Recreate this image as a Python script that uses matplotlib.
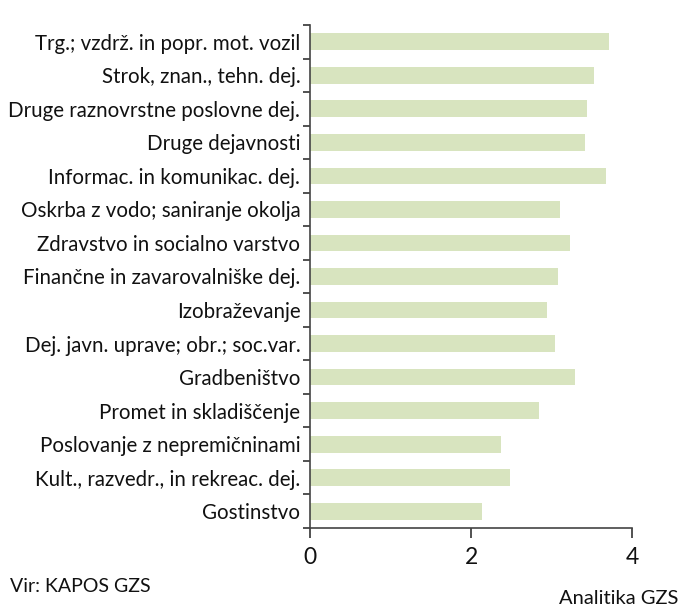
import matplotlib
matplotlib.use("Agg")
import matplotlib.pyplot as plt
import numpy as np

categories = [
    "Trg.; vzdrž. in popr. mot. vozil",
    "Strok, znan., tehn. dej.",
    "Druge raznovrstne poslovne dej.",
    "Druge dejavnosti",
    "Informac. in komunikac. dej.",
    "Oskrba z vodo; saniranje okolja",
    "Zdravstvo in socialno varstvo",
    "Finančne in zavarovalniške dej.",
    "Izobraževanje",
    "Dej. javn. uprave; obr.; soc.var.",
    "Gradbeništvo",
    "Promet in skladiščenje",
    "Poslovanje z nepremičninami",
    "Kult., razvedr., in rekreac. dej.",
    "Gostinstvo",
]
values = [3.72, 3.53, 3.44, 3.42, 3.68, 3.10, 3.23, 3.08, 2.95, 3.04, 3.29, 2.85, 2.37, 2.49, 2.14]
xticks = [0, 2, 4]

FONT = ["Lato", "DejaVu Sans"]
plt.rcParams['font.family'] = FONT

fig = plt.figure(figsize=(6.79, 6.05), dpi=100)
ax = fig.add_axes([310/679, 1-528/605, (632-310)/679, (528-25)/605])

n = len(categories)
y = np.arange(n)
ax.barh(y, values, height=0.5, color="#D8E4BF", edgecolor="none")
ax.set_ylim(n - 0.5, -0.5)
ax.set_xlim(0, 4)

ax.set_yticks(y)
ax.set_yticklabels(categories, fontsize=14.8, color="#111111")
ax.set_yticks(np.arange(n + 1) - 0.5, minor=True)
ax.tick_params(axis='y', which='major', length=0, pad=7)
ax.tick_params(axis='y', which='minor', length=5, width=1.2, color="#333333", direction='out')
ax.set_xticks(xticks)
ax.set_xticklabels([str(t) for t in xticks], fontsize=16.5, color="#111111")
ax.tick_params(axis='x', length=7, width=1.2, color="#333333", direction='out', pad=7)

for s in ["top", "right"]:
    ax.spines[s].set_visible(False)
for s in ["left", "bottom"]:
    ax.spines[s].set_color("#444444")
    ax.spines[s].set_linewidth(1.2)

fig.text(10/679, 1-586/605, "Vir: KAPOS GZS", fontsize=14, ha="left", va="center", color="#111111")
fig.text(559/679, 1-598/605, "Analitika GZS", fontsize=14.5, ha="left", va="center", color="#111111")

fig.savefig("out.png", dpi=100)
